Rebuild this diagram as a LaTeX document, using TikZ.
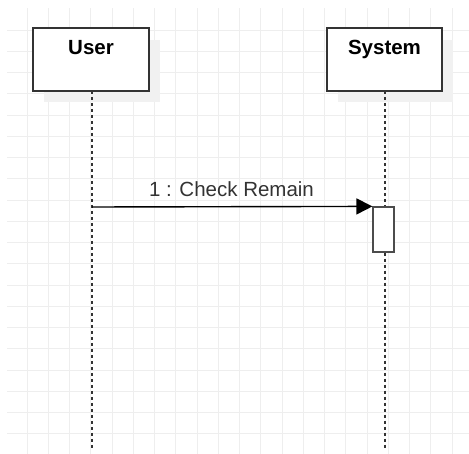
\documentclass[tikz,border=0pt]{standalone}
\usepackage{fontspec}
\setmainfont{Liberation Sans}
\usetikzlibrary{arrows.meta}
\definecolor{gridc}{RGB}{238,238,238}
\definecolor{shadowc}{RGB}{241,241,241}
\definecolor{boxline}{RGB}{51,51,51}
\definecolor{labelc}{RGB}{51,51,51}
\tikzset{
  lifebox/.style={draw=boxline, line width=1.6pt, fill=white, rectangle,
    minimum width=116pt, minimum height=63pt, inner sep=0pt},
  headtext/.style={font=\fontsize{20.5}{24}\selectfont\bfseries, text=black, anchor=base, inner sep=0pt},
  lifeline/.style={draw=boxline, line width=1.5pt, dash pattern=on 3pt off 3pt},
  actbox/.style={draw=black!70, line width=1.2pt, fill=white, rectangle,
    minimum width=21pt, minimum height=45pt, inner sep=0pt},
  msg/.style={draw=black, line width=1.4pt, -{Triangle[length=16pt,width=16pt]}},
  msgtext/.style={font=\fontsize{20.5}{24}\selectfont, text=labelc, anchor=base, inner sep=0pt}
}
\begin{document}
\begin{tikzpicture}[x=1pt,y=-1pt]
\useasboundingbox (0,0) rectangle (469,454);
% background grid
\foreach \i in {0,...,21} {
  \pgfmathsetmacro{\gx}{27+21.25*\i}
  \ifdim \gx pt<469pt
    \draw[gridc, line width=0.8pt] (\gx,8) -- (\gx,454);
  \fi
}
\foreach \j in {0,...,20} {
  \pgfmathsetmacro{\gy}{30+21.25*\j}
  \ifdim \gy pt<454pt
    \draw[gridc, line width=0.8pt] (7,\gy) -- (469,\gy);
  \fi
}
% shadows
\fill[shadowc] (44,40) rectangle (160,102);
\fill[shadowc] (338,40) rectangle (453,102);
% lifeline heads
\node[lifebox] (user) at (91,59.5) {};
\node[lifebox, minimum width=115pt] (system) at (384.5,59.5) {};
\node[headtext] (usertxt) at (91,55) {User};
\node[headtext] (systxt) at (384.5,55) {System};
% lifeline ends
\coordinate (usertop) at (92,91);
\coordinate (systop) at (385,91);
\coordinate (userend) at (92,448);
\coordinate (sysend) at (385,448);
% activation
\node[actbox] (act) at (383.5,229.5) {};
% lifelines
\draw[lifeline] (usertop) -- (userend);
\draw[lifeline] (systop) -- (systop |- act.north);
\draw[lifeline] (systop |- act.south) -- (sysend);
% message
\coordinate (msgstart) at (92,207);
\draw[msg] (msgstart) -- (act.north west);
\node[msgtext] (msglbl) at (231.5,197) {1 : Check Remain};
\end{tikzpicture}
\end{document}
